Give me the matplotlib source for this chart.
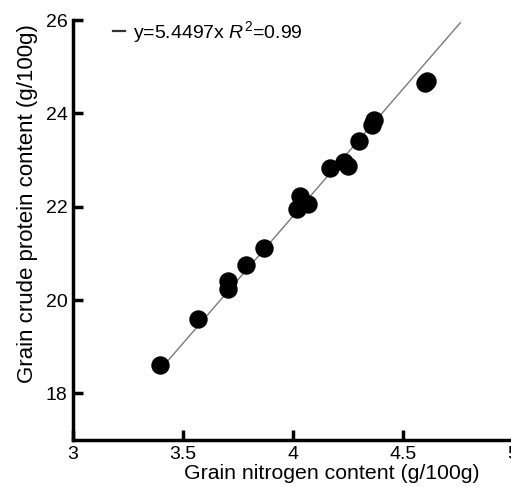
import matplotlib
matplotlib.use("Agg")
import matplotlib.pyplot as plt
from matplotlib.lines import Line2D
import numpy as np

plt.rcParams['font.family'] = ['Liberation Sans', 'DejaVu Sans']
plt.rcParams['mathtext.fontset'] = 'custom'
plt.rcParams['mathtext.rm'] = 'Liberation Sans'
plt.rcParams['mathtext.it'] = 'Liberation Sans:italic'

# grain N vs crude protein
nitrogen = [3.395, 3.57, 3.706, 3.706, 3.786, 3.87, 4.02, 4.03, 4.07,
            4.17, 4.23, 4.25, 4.30, 4.36, 4.37, 4.60, 4.61]
protein = [18.60, 19.60, 20.41, 20.23, 20.74, 21.12, 21.94, 22.22, 22.05,
           22.82, 22.96, 22.87, 23.40, 23.74, 23.85, 24.65, 24.70]
slope = 5.4497
fit_range = [3.42, 4.76]

fig = plt.figure(figsize=(5.11, 4.87), dpi=100)
ax = fig.add_axes([0.143, 0.0965, 0.861, 0.8624])

xs = np.array(fit_range)
ax.plot(xs, slope * xs, color='#7a7a7a', lw=1.0)
ax.scatter(nitrogen, protein, s=150, color='black', zorder=3)

ax.set_xlim(3, 5)
ax.set_ylim(17, 26)
ax.set_xticks([3, 3.5, 4, 4.5, 5])
ax.set_xticklabels(['3', '3.5', '4', '4.5', '5'])
ax.set_yticks([18, 20, 22, 24, 26])

for s in ['top', 'right']:
    ax.spines[s].set_visible(False)
for s in ['left', 'bottom']:
    ax.spines[s].set_linewidth(2.5)
ax.tick_params(direction='in', length=7, width=2.5, labelsize=14)
ax.tick_params(axis='x', pad=4)
ax.tick_params(axis='y', pad=4)

ax.set_xlabel('Grain nitrogen content (g/100g)', fontsize=15.3)
ax.set_ylabel('Grain crude protein content (g/100g)', fontsize=16)
ax.xaxis.set_label_coords(0.589, -0.057)
ax.yaxis.set_label_coords(-0.08, 0.564)

handle = Line2D([], [], color='#333333', lw=1.6)
ax.legend([handle], [r'y=5.4497x $\mathit{R}^2$=0.99'], loc='upper left',
          frameon=False, fontsize=14, handlelength=0.6, handletextpad=0.4,
          borderaxespad=0.2, bbox_to_anchor=(0.065, 1.03))

fig.savefig('out.png', dpi=100)
